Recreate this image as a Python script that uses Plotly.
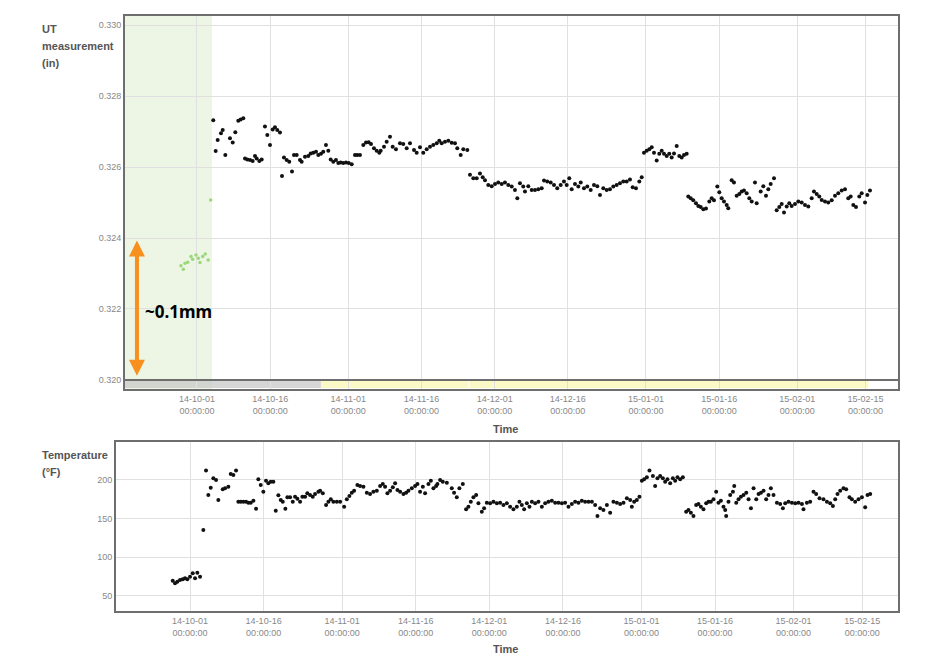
import pandas as pd
import plotly.graph_objects as go

# ---------------- data ----------------
BASE = pd.Timestamp("2014-10-01")

# UT measurement (in) - early (green) readings
ut_green_days = [-3.28, -2.8, -2.46, -1.9, -1.23, -0.88, -0.2, 0.27, 0.61, 1.17, 1.7, 2.3, 2.8]
ut_green_vals = [0.32322, 0.32312, 0.32329, 0.32332, 0.32348, 0.3234, 0.32352, 0.32343,
                 0.32331, 0.32348, 0.32355, 0.32338, 0.32507]

# UT measurement (in) - main readings (days since 2014-10-01)
ut_days = [3.34, 3.83, 4.24, 4.92, 5.27, 5.80, 6.76, 7.32, 7.85, 8.46, 8.95, 9.49, 9.84, 10.31,
           10.86, 11.41, 11.89, 12.23, 12.77, 13.26, 13.93, 14.41, 14.96, 15.51, 15.98, 16.45,
           17.01, 17.42, 17.83, 18.38, 18.91, 19.47, 19.88, 20.43, 21.11, 21.45, 22.13, 22.81,
           23.30, 23.83, 24.39, 24.86, 25.41, 25.88, 26.43, 26.91, 27.40, 27.93, 28.48, 28.96,
           29.45, 29.98, 30.53, 31.09, 31.70, 32.38, 32.85, 33.40, 34.08, 34.63, 35.18, 35.66,
           36.27, 36.82, 37.36, 37.64, 38.32, 38.87, 39.55, 40.10, 40.78, 41.60, 42.27, 42.97,
           43.65, 44.47, 45.02, 45.70, 46.37, 47.07, 47.75, 48.42, 49.12, 49.65, 50.14, 50.82,
           51.50, 52.19, 52.87, 53.34, 54.04, 54.57, 55.39, 55.94, 56.62, 57.32, 57.99, 58.55,
           59.02, 59.69, 60.39, 61.07, 61.74, 62.44, 63.11, 63.79, 64.49, 65.16, 65.64, 66.19,
           66.86, 67.21, 67.89, 68.59, 69.26, 69.94, 70.64, 71.11, 71.78, 72.48, 73.16, 73.83,
           74.53, 75.20, 75.76, 76.29, 76.78, 77.46, 78.14, 78.63, 79.30, 79.98, 80.68, 81.35,
           82.03, 82.58, 83.26, 83.96, 84.63, 85.31, 86.00, 86.68, 87.36, 88.05, 88.73, 89.28,
           89.96, 90.64, 91.13, 91.60, 92.15, 92.68, 93.18, 93.65, 94.20, 94.73, 95.23, 95.70,
           96.25, 96.78, 97.27, 97.75, 98.30, 98.83, 99.32, 99.80, 100.35, 100.68, 101.17,
           101.70, 102.25, 102.73, 103.22, 103.75, 104.30, 104.98, 105.47, 105.94, 106.62,
           107.03, 107.52, 107.99, 108.55, 108.87, 109.57, 110.04, 110.59, 111.13, 111.62,
           112.09, 112.64, 113.18, 113.67, 114.34, 114.69, 115.51, 116.05, 116.60, 117.07,
           117.56, 118.24, 118.79, 119.33, 119.82, 120.29, 120.84, 121.37, 121.86, 122.54,
           123.22, 123.91, 124.59, 125.27, 125.96, 126.43, 126.99, 127.52, 128.01, 128.69,
           129.36, 130.06, 130.74, 131.41, 132.11, 132.79, 133.46, 133.95, 134.49, 135.04,
           135.72, 136.21, 136.89, 137.36, 137.91]
ut_vals = [0.32732, 0.32645, 0.32676, 0.32695, 0.32704, 0.32634, 0.32681, 0.32669, 0.32698,
           0.3273, 0.32734, 0.32737, 0.32624, 0.32621, 0.3262, 0.32617, 0.32631, 0.32624,
           0.32617, 0.32621, 0.32714, 0.3269, 0.32662, 0.32706, 0.32712, 0.32704, 0.32697,
           0.32575, 0.32627, 0.3262, 0.32615, 0.32587, 0.32634, 0.32634, 0.3262, 0.32615,
           0.32629, 0.32631, 0.32638, 0.3264, 0.32643, 0.32634, 0.32637, 0.32643, 0.32662,
           0.32646, 0.32621, 0.32615, 0.3262, 0.32611, 0.32613, 0.32611, 0.32613, 0.32611,
           0.32608, 0.32634, 0.32634, 0.32634, 0.32662, 0.32669, 0.3267, 0.32665, 0.32653,
           0.32646, 0.3264, 0.32646, 0.32657, 0.32671, 0.32685, 0.32657, 0.3265, 0.32667,
           0.32665, 0.32653, 0.32667, 0.32648, 0.3264, 0.32656, 0.3264, 0.3265, 0.32657,
           0.32662, 0.32667, 0.32674, 0.32667, 0.32671, 0.32674, 0.32668, 0.32667, 0.32653,
           0.32634, 0.3265, 0.32648, 0.32578, 0.32568, 0.32568, 0.32582, 0.32571, 0.32563,
           0.32549, 0.32546, 0.32552, 0.32556, 0.32552, 0.32556, 0.32549, 0.32545, 0.32535,
           0.32512, 0.32554, 0.32545, 0.32531, 0.32546, 0.32535, 0.32535, 0.32537, 0.3254,
           0.32562, 0.32559, 0.32556, 0.32549, 0.3254, 0.32549, 0.32559, 0.32549, 0.32568,
           0.32537, 0.32552, 0.32545, 0.32556, 0.3254, 0.32545, 0.32535, 0.32549, 0.32546,
           0.32521, 0.3254, 0.32535, 0.32537, 0.32545, 0.32549, 0.32554, 0.32559, 0.32559,
           0.32565, 0.32543, 0.3254, 0.32559, 0.32571, 0.3264, 0.32646, 0.3265, 0.32656,
           0.3264, 0.32618, 0.32637, 0.32646, 0.32637, 0.32631, 0.32637, 0.32627, 0.32638,
           0.32659, 0.32631, 0.32627, 0.32634, 0.32637, 0.32517, 0.32512, 0.32506, 0.32498,
           0.3249, 0.32487, 0.32481, 0.32483, 0.32503, 0.32512, 0.32506, 0.32545, 0.32529,
           0.32512, 0.32503, 0.32493, 0.32484, 0.32563, 0.32556, 0.32519, 0.32524, 0.32531,
           0.32534, 0.32526, 0.32512, 0.32503, 0.32556, 0.32498, 0.32531, 0.32546, 0.32519,
           0.32537, 0.32552, 0.32568, 0.32478, 0.32487, 0.32496, 0.32472, 0.32489, 0.32498,
           0.3249, 0.32496, 0.32503, 0.325, 0.32493, 0.32489, 0.32512, 0.32531, 0.32524,
           0.32517, 0.32507, 0.32503, 0.325, 0.32506, 0.32519, 0.32526, 0.32534, 0.32537,
           0.32512, 0.32517, 0.32493, 0.32487, 0.32517, 0.32526, 0.325, 0.32521, 0.32534]

# Temperature (F) (days since 2014-10-01)
temp_days = [-3.53, -3.06, -2.59, -2.04, -1.49, -1.02, -0.55, 0.0, 0.55, 1.02, 1.49, 2.04,
             2.71, 3.26, 3.73, 4.22, 4.75, 5.30, 5.77, 6.67, 7.14, 7.81, 8.30, 8.83, 9.38,
             9.85, 10.34, 10.87, 11.42, 11.89, 12.38, 12.91, 13.46, 13.92, 14.41, 14.94, 15.49,
             15.96, 16.45, 16.98, 17.47, 18.00, 18.49, 18.90, 19.43, 19.84, 20.39, 20.94, 21.41,
             21.88, 22.43, 22.90, 23.45, 23.91, 24.46, 25.01, 25.48, 26.16, 26.51, 27.06, 27.73,
             28.20, 28.69, 29.22, 29.92, 30.59, 31.41, 31.96, 32.48, 32.97, 33.44, 34.11, 34.66,
             35.34, 36.03, 36.70, 37.37, 38.07, 38.74, 39.29, 39.76, 40.23, 40.78, 41.33, 41.80,
             42.27, 42.82, 43.49, 44.04, 44.51, 45.20, 45.87, 46.35, 46.89, 47.45, 47.91, 48.59,
             49.08, 49.61, 50.16, 50.42, 50.97, 51.52, 52.34, 53.35, 53.82, 54.37, 54.90, 55.60,
             56.27, 56.74, 57.23, 57.76, 58.31, 58.78, 59.47, 59.94, 60.49, 61.16, 61.84, 62.53,
             63.20, 63.88, 64.57, 65.24, 65.92, 66.61, 67.14, 67.63, 68.10, 68.65, 69.18, 69.67,
             70.34, 71.01, 71.71, 72.38, 73.05, 73.74, 74.42, 75.09, 75.79, 76.45, 77.13, 77.82,
             78.49, 79.17, 79.86, 80.53, 81.21, 81.90, 82.57, 83.04, 83.59, 84.26, 84.96, 85.63,
             86.30, 87.00, 87.67, 88.35, 89.04, 89.71, 90.05, 90.52, 91.07, 91.60, 92.09, 92.56,
             93.11, 93.64, 94.34, 94.80, 95.27, 95.82, 96.37, 96.84, 97.31, 97.86, 98.41, 98.88,
             99.35, 99.90, 100.45, 101.12, 101.59, 102.08, 102.61, 103.16, 103.63, 104.12,
             104.65, 105.20, 105.67, 106.16, 106.69, 107.24, 107.71, 108.20, 108.73, 109.08,
             109.28, 109.75, 110.10, 110.65, 110.92, 111.33, 111.80, 112.29, 112.82, 113.37,
             113.84, 114.33, 114.86, 115.41, 115.88, 116.37, 116.90, 117.43, 117.90, 118.39,
             118.93, 119.62, 120.29, 120.84, 121.31, 121.98, 122.67, 123.35, 124.02, 124.72,
             125.04, 125.73, 126.40, 127.08, 127.62, 128.30, 129.11, 129.81, 130.48, 131.03,
             131.50, 131.97, 132.52, 133.19, 133.74, 134.41, 134.90, 135.57, 136.25, 136.94,
             137.61, 138.08, 138.63]
temp_vals = [69.8, 66.4, 68.5, 70.7, 71.6, 72.9, 71.6, 75.0, 79.3, 72.9, 80.1, 75.0,
             135.3, 212.1, 180.6, 190.1, 202.2, 200.0, 174.1, 188.0, 189.3, 191.3, 207.8, 206.5,
             212.1, 172.0, 172.0, 172.0, 172.0, 170.6, 170.6, 173.2, 162.9, 200.9, 193.5, 184.9,
             199.1, 195.7, 197.8, 197.8, 160.3, 180.2, 174.1, 172.0, 162.9, 177.6, 177.6, 172.0,
             178.4, 175.8, 172.0, 178.4, 178.4, 182.8, 180.6, 178.4, 181.9, 184.9, 186.2, 182.8,
             167.7, 172.0, 175.1, 172.0, 172.0, 172.0, 165.5, 175.1, 179.3, 183.6, 186.2, 193.5,
             192.2, 191.3, 183.6, 181.9, 184.9, 186.2, 192.2, 194.8, 191.3, 182.8, 186.2, 190.6,
             195.7, 187.1, 184.9, 181.9, 183.6, 186.2, 189.3, 192.2, 194.8, 184.9, 191.3, 182.8,
             194.8, 199.1, 189.3, 192.2, 194.8, 200.0, 197.8, 196.5, 189.3, 183.6, 177.6, 189.3,
             194.8, 162.1, 165.5, 172.0, 177.6, 180.6, 169.9, 159.0, 163.4, 170.6, 169.9, 172.0,
             169.9, 170.6, 167.7, 169.9, 165.5, 162.1, 165.5, 172.0, 167.7, 162.1, 169.9, 165.5,
             172.0, 169.9, 172.0, 165.5, 169.9, 172.0, 173.2, 170.6, 170.6, 169.9, 170.6, 165.5,
             169.0, 172.0, 170.6, 173.2, 172.0, 172.0, 172.0, 167.7, 153.4, 163.4, 161.2, 167.7,
             157.7, 172.0, 170.6, 169.0, 170.6, 176.3, 174.1, 165.5, 172.0, 174.1, 178.4, 199.1,
             200.9, 203.5, 212.1, 205.2, 192.2, 202.2, 205.2, 202.2, 197.8, 200.9, 195.7, 202.2,
             199.1, 203.5, 200.9, 203.5, 159.0, 161.2, 157.7, 153.4, 167.7, 169.0, 165.5, 162.1,
             169.9, 172.0, 172.0, 175.1, 184.9, 170.6, 173.2, 165.5, 161.2, 153.4, 172.0, 180.6,
             184.9, 192.2, 170.6, 175.1, 178.4, 180.6, 183.6, 175.1, 163.4, 189.3, 175.1, 181.9,
             183.6, 186.2, 175.1, 180.6, 189.3, 180.6, 170.6, 169.0, 163.4, 169.9, 172.0, 170.6,
             169.9, 170.6, 169.0, 162.1, 170.6, 172.0, 184.9, 181.9, 176.3, 175.1, 172.0, 169.9,
             166.4, 175.1, 181.9, 186.2, 189.3, 188.0, 177.6, 175.1, 172.0, 175.1, 177.6, 164.7,
             180.6, 181.9]

tick_dates = ["2014-10-01", "2014-10-16", "2014-11-01", "2014-11-16", "2014-12-01",
              "2014-12-16", "2015-01-01", "2015-01-16", "2015-02-01", "2015-02-15"]
tick_labels = [d[2:] + "<br>00:00:00" for d in tick_dates]
ut_ticks = [0.320, 0.322, 0.324, 0.326, 0.328, 0.330]
temp_ticks = [50, 100, 150, 200]


def to_time(days):
    return [BASE + pd.Timedelta(days=d) for d in days]


def t(d):
    return BASE + pd.Timedelta(days=d)


W, H = 932, 666
fig = go.Figure()

fig.add_trace(go.Scatter(x=to_time(ut_green_days), y=ut_green_vals, mode="markers",
                         marker=dict(size=3.5, color="#9bd87b"), xaxis="x", yaxis="y",
                         showlegend=False))
fig.add_trace(go.Scatter(x=to_time(ut_days), y=ut_vals, mode="markers",
                         marker=dict(size=4, color="#111111"), xaxis="x", yaxis="y",
                         showlegend=False))
fig.add_trace(go.Scatter(x=to_time(temp_days), y=temp_vals, mode="markers",
                         marker=dict(size=4, color="#111111"), xaxis="x2", yaxis="y2",
                         showlegend=False))

tickfont = dict(family="Liberation Sans, Arial, sans-serif", size=9, color="#888888")
grid = "#e0e0e0"
frame = "#6e6e6e"

common_x = dict(type="date", tickmode="array", tickvals=tick_dates, ticktext=tick_labels,
                showgrid=True, gridcolor=grid, gridwidth=1, zeroline=False,
                showline=True, mirror=True, linecolor=frame, linewidth=2,
                tickfont=tickfont, ticks="")

fig.update_layout(
    width=W, height=H, margin=dict(l=0, r=0, t=0, b=0),
    paper_bgcolor="white", plot_bgcolor="white",
    xaxis=dict(**common_x, domain=[125 / W, 898 / W], anchor="y",
               range=[t(-14.75), t(143.65)]),
    yaxis=dict(domain=[1 - 389 / H, 1 - 16 / H], anchor="x", range=[0.319746, 0.330254],
               tickmode="array", tickvals=ut_ticks, tickformat=".3f",
               showgrid=True, gridcolor=grid, zeroline=False,
               showline=True, mirror=True, linecolor=frame, linewidth=2,
               tickfont=tickfont, ticks=""),
    xaxis2=dict(**common_x, domain=[116 / W, 898 / W], anchor="y2",
                range=[t(-15.09), t(144.3)]),
    yaxis2=dict(domain=[1 - 611 / H, 1 - 442 / H], anchor="x2", range=[30.6, 249.1],
                tickmode="array", tickvals=temp_ticks,
                showgrid=True, gridcolor=grid, zeroline=False,
                showline=True, mirror=True, linecolor=frame, linewidth=2,
                tickfont=tickfont, ticks=""),
)

# shaded start-up period (green)
fig.add_shape(type="rect", xref="x", yref="y domain", x0=t(-14.75), x1=t(3.07), y0=0, y1=1,
              fillcolor="#edf6e4", line=dict(width=0), layer="below")
# status strip at bottom of the UT chart
strip_y0, strip_y1 = 0.319772, 0.319972
fig.add_shape(type="rect", xref="x", yref="y", x0=t(-14.75), x1=t(25.4), y0=strip_y0, y1=strip_y1,
              fillcolor="rgba(200,200,200,0.75)", line=dict(width=0), layer="below")
fig.add_shape(type="rect", xref="x", yref="y", x0=t(25.4), x1=t(55.6), y0=strip_y0, y1=strip_y1,
              fillcolor="#fbfac6", line=dict(width=0), layer="below")
fig.add_shape(type="rect", xref="x", yref="y", x0=t(55.8), x1=t(137.6), y0=strip_y0, y1=strip_y1,
              fillcolor="#fbfac6", line=dict(width=0), layer="below")
fig.add_shape(type="line", xref="x", yref="y", x0=t(-14.75), x1=t(143.65), y0=0.32, y1=0.32,
              line=dict(color=frame, width=2))

# orange double-headed arrow
fig.add_annotation(x=t(-12.3), y=0.32012, ax=t(-12.3), ay=0.32397, xref="x", yref="y",
                   axref="x", ayref="y", text="", showarrow=True, arrowhead=2,
                   arrowside="end+start", arrowwidth=4, arrowsize=0.8, arrowcolor="#f7901e")
fig.add_annotation(x=143 / W, y=1 - 311 / H, xref="paper", yref="paper", text="<b>~0.1mm</b>",
                   showarrow=False, xanchor="left", yanchor="middle",
                   font=dict(family="Noto Sans, sans-serif", size=17, color="#000000"))

# axis titles
title_font = dict(family="Liberation Sans, Arial, sans-serif", size=11, color="#555555")
for txt, ypx in [("UT", 29), ("measurement", 46), ("(in)", 63), ("Temperature", 455), ("(°F)", 472)]:
    fig.add_annotation(x=40 / W, y=1 - ypx / H, xref="paper", yref="paper", text=f"<b>{txt}</b>",
                       showarrow=False, xanchor="left", yanchor="middle", font=title_font)
for ypx in [429, 649]:
    fig.add_annotation(x=505 / W, y=1 - ypx / H, xref="paper", yref="paper", text="<b>Time</b>",
                       showarrow=False, xanchor="center", yanchor="middle", font=title_font)

fig.write_html("out.html")
